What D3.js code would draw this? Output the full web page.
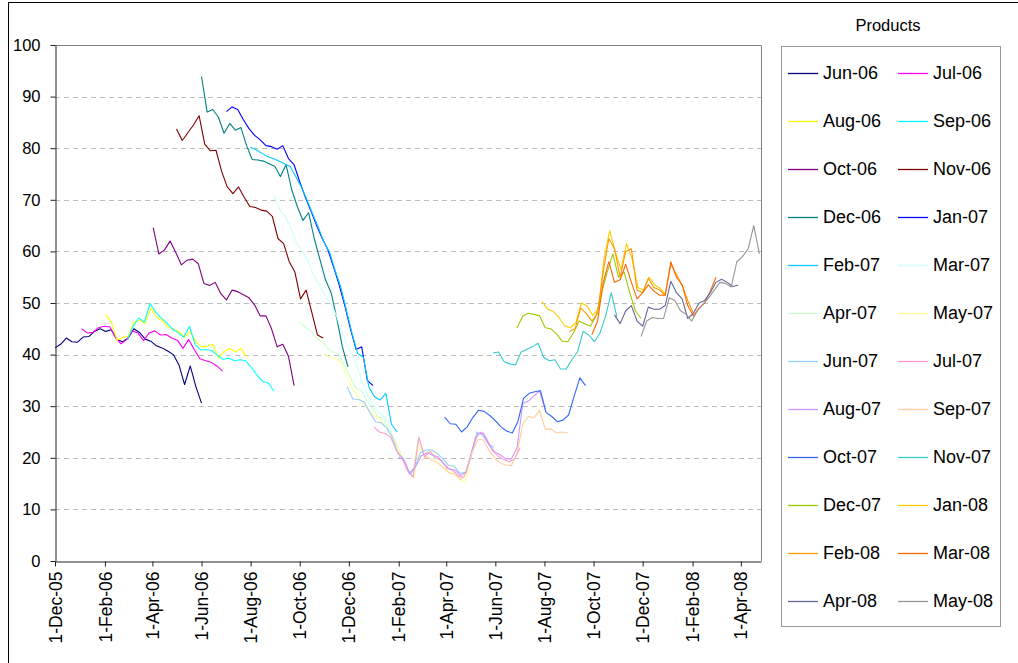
<!DOCTYPE html>
<html>
<head>
<meta charset="utf-8">
<script src="https://cdn.jsdelivr.net/npm/d3@7"></script>
<style>
  html, body { margin: 0; padding: 0; background: #fff; }
  svg { display: block; font-family: "Liberation Sans", Arial, sans-serif; }
</style>
</head>
<body>
<svg id="chart" width="1018" height="663"></svg>
<script>
// Forward products, one line each, in legend order
const products = ["Jun-06","Jul-06","Aug-06","Sep-06","Oct-06","Nov-06","Dec-06","Jan-07",
  "Feb-07","Mar-07","Apr-07","May-07","Jun-07","Jul-07","Aug-07","Sep-07",
  "Oct-07","Nov-07","Dec-07","Jan-08","Feb-08","Mar-08","Apr-08","May-08"];

// First trading date of each product; prices below are weekly from that date
const startDates = ["2005-12-01","2006-01-03","2006-02-02","2006-03-01","2006-04-02","2006-05-01",
  "2006-06-01","2006-07-02","2006-08-01","2006-08-30","2006-10-01","2006-10-31",
  "2006-11-29","2007-01-01","2007-02-01","2007-03-01","2007-03-30","2007-05-29",
  "2007-06-28","2007-07-29","2007-09-01","2007-09-29","2007-10-27","2007-11-29"];

// Weekly prices per product
const jun06 = [41.3,42.0,43.2,42.5,42.4,43.4,43.5,44.5,45.0,44.5,44.8,42.9,42.5,43.2,45.0,44.3,43.0,42.6,41.7,41.3,40.7,40.0,38.0,34.2,37.8,33.8,30.6];
const jul06 = [45.0,44.2,44.3,45.2,45.5,45.4,43.3,42.1,42.9,44.6,44.2,42.7,44.2,44.6,43.8,43.9,43.2,42.8,41.2,42.9,41.0,39.2,38.8,38.5,37.8,36.8];
const aug06 = [47.7,46.3,42.8,43.3,43.6,46.3,46.6,46.0,49.0,47.3,46.6,45.4,44.8,44.5,43.4,44.5,42.5,41.5,41.6,42.0,39.3,40.6,41.2,40.5,41.2,39.5];
const sep06 = [42.9,45.5,47.1,46.3,49.9,48.2,47.1,46.1,45.0,44.2,43.4,45.5,42.0,40.9,41.0,40.8,39.8,39.1,39.3,38.8,39.0,38.8,37.5,36.0,34.8,34.5,32.9];
const oct06 = [64.6,59.5,60.3,62.0,59.8,57.4,58.3,58.5,57.6,53.8,53.4,54.0,51.8,50.6,52.5,52.2,51.6,51.0,49.6,47.5,47.5,45.0,41.5,42.0,39.7,34.0];
const nov06 = [83.7,81.5,83.0,84.5,86.3,80.8,79.5,79.6,75.5,72.5,71.2,72.5,70.5,68.7,68.5,68.0,67.8,66.8,62.5,61.5,58.0,56.0,50.8,52.5,48.2,43.8,43.2];
const dec06 = [93.9,87.0,87.5,86.0,82.9,84.8,83.5,84.0,80.5,77.8,77.7,77.5,77.0,76.5,74.5,76.8,72.0,68.7,66.0,67.5,62.5,58.5,54.5,52.0,47.0,41.5,37.6];
const jan07 = [87.1,88.0,87.5,85.5,83.8,82.5,81.6,80.5,80.3,79.8,80.5,78.0,76.8,73.5,70.5,67.8,65.0,62.5,60.3,57.0,53.5,49.5,45.0,41.0,41.5,35.0,34.0];
const feb07 = [80.2,79.7,79.0,78.4,78.0,77.5,77.0,76.5,74.5,72.5,70.0,67.3,64.7,61.8,59.9,56.3,53.1,48.6,44.1,40.2,39.5,33.7,31.8,31.2,32.5,26.5,25.0];
const mar07 = [70.8,68.2,66.8,64.5,61.6,60.0,58.2,55.5,53.6,51.6,50.0,47.8,44.5,42.0,39.8,37.0,33.5,31.3,29.5,28.4,27.5,24.5,21.0,19.5,17.0,18.0,20.5];
const apr07 = [46.3,45.3,44.6,43.2,42.4,41.2,40.5,40.0,37.8,35.5,33.5,33.0,31.0,29.5,27.9,27.4,25.0,23.2,20.6,18.0,16.5,23.5,20.3,21.6,19.8,19.8,18.2];
const may07 = [40.2,39.5,39.2,38.6,36.0,33.4,32.0,30.4,29.2,28.1,27.3,26.0,24.5,22.2,19.8,17.2,16.4,22.5,20.4,21.4,19.9,19.4,17.2,17.3,15.9,15.2,18.0];
const jun07 = [33.7,31.4,31.3,30.8,28.8,27.0,26.8,25.8,24.0,20.8,19.9,17.0,18.2,21.0,21.5,21.5,20.8,19.8,18.5,18.4,17.0,17.2,20.5,25.0,24.4,22.8,22.0];
const jul07 = [26.0,25.0,24.7,24.0,21.5,20.0,17.5,16.2,24.0,20.2,21.2,20.0,19.5,18.0,17.6,16.5,16.2,19.3,23.8,25.0,23.8,21.5,20.4,19.7,19.2,19.8,22.0];
const aug07 = [20.2,19.4,16.8,18.3,20.4,21.0,20.5,20.2,18.8,17.8,17.6,16.6,17.3,21.5,24.6,24.8,22.5,21.2,20.6,19.8,19.8,22.0,30.5,31.0,32.0,33.0,29.3];
const sep07 = [19.6,20.2,19.5,19.0,18.0,17.0,16.8,15.8,17.0,21.0,23.5,23.5,21.5,20.0,19.0,18.6,18.5,21.0,26.5,28.0,27.8,29.2,25.5,25.6,24.8,25.0,24.8];
const oct07 = [27.9,26.6,26.5,25.0,26.0,27.8,29.2,29.0,28.2,27.2,26.0,25.2,24.8,27.0,31.5,32.5,32.8,33.0,28.8,28.0,27.0,27.3,28.3,32.0,35.5,34.0];
const nov07 = [40.3,40.5,38.6,38.2,38.0,40.5,41.0,41.5,42.2,39.5,38.8,39.0,37.2,37.2,39.0,40.5,44.5,43.8,42.5,44.2,47.5,52.0,47.3];
const dec07 = [45.2,47.5,48.0,47.8,47.5,45.2,45.0,44.0,42.6,42.5,44.2,46.5,46.0,45.5,47.5,52.0,56.0,59.5,55.0,56.0,52.0,48.5,47.0];
const jan08 = [50.3,48.8,48.4,47.2,45.6,45.2,46.2,50.0,49.4,47.6,48.8,58.5,64.0,60.0,56.5,61.5,58.5,53.0,52.5,55.0,53.5,52.8,51.5];
const feb08 = [44.5,45.0,49.0,48.0,46.5,48.0,56.0,62.5,60.5,55.0,60.0,60.5,52.5,52.0,54.8,53.0,52.5,51.5,57.5,55.5,53.5,50.5,48.0];
const mar08 = [43.9,46.5,54.0,58.0,54.0,54.5,57.5,54.0,50.8,52.0,53.5,52.3,51.5,51.5,58.0,55.0,53.5,49.5,47.5,49.0,50.0,52.3,55.0];
const apr08 = [47.7,46.0,48.5,49.5,46.5,45.5,49.2,48.8,48.8,49.5,54.2,52.0,50.8,47.0,48.0,50.0,50.5,52.0,54.0,54.6,54.0,53.2,53.5];
const may08 = [43.5,46.5,47.2,47.0,47.0,51.0,50.5,48.5,47.8,46.5,48.5,49.8,51.0,52.5,54.0,53.8,53.1,58.0,59.0,60.5,65.0,59.5];

const seriesValues = [jun06, jul06, aug06, sep06, oct06, nov06, dec06, jan07,
  feb07, mar07, apr07, may07, jun07, jul07, aug07, sep07,
  oct07, nov07, dec07, jan08, feb08, mar08, apr08, may08];

// Axis ticks
const yTicks = [0, 10, 20, 30, 40, 50, 60, 70, 80, 90, 100];
const xTickDates = ["2005-12-01","2006-02-01","2006-04-01","2006-06-01","2006-08-01",
  "2006-10-01","2006-12-01","2007-02-01","2007-04-01","2007-06-01","2007-08-01",
  "2007-10-01","2007-12-01","2008-02-01","2008-04-01"];
const xDomain = ["2005-12-01", "2008-04-26"];

// Line colours, one per product
const palette = ["#000080","#FF00FF","#FFFF00","#00FFFF","#800080","#800000","#008080","#0000FF",
  "#00CCFF","#CCFFFF","#CCFFCC","#FFFF99","#99CCFF","#FF99CC","#CC99FF","#FFCC99",
  "#3366FF","#33CCCC","#99CC00","#FFCC00","#FF9900","#FF6600","#666699","#969696"];

const parse = d3.timeParse("%Y-%m-%d");
const svg = d3.select("#chart");

const plot = { left: 55, right: 761, top: 45, bottom: 561 };

const x = d3.scaleTime()
  .domain(xDomain.map(parse))
  .range([plot.left, plot.right]);
const y = d3.scaleLinear()
  .domain([0, 100])
  .range([plot.bottom, plot.top]);

// Chart area frame
svg.append("rect")
  .attr("x", 8.5).attr("y", 2.5)
  .attr("width", 1030).attr("height", 700)
  .attr("fill", "none").attr("stroke", "#000").attr("stroke-width", 1);

// Dashed horizontal gridlines
svg.append("g")
  .selectAll("line")
  .data(yTicks.filter(v => v > 0 && v < 100))
  .join("line")
  .attr("x1", plot.left).attr("x2", plot.right)
  .attr("y1", d => Math.round(y(d)) + 0.5).attr("y2", d => Math.round(y(d)) + 0.5)
  .attr("stroke", "#BDBDBD").attr("stroke-width", 1)
  .attr("stroke-dasharray", "5,4");

// Plot area border (top and right)
svg.append("path")
  .attr("d", `M${plot.left},${plot.top + 0.5}H${plot.right + 0.5}V${plot.bottom}`)
  .attr("fill", "none").attr("stroke", "#808080").attr("stroke-width", 1);

svg.append("defs").append("clipPath").attr("id", "plotClip")
  .append("rect")
  .attr("x", plot.left).attr("y", plot.top)
  .attr("width", plot.right - plot.left).attr("height", plot.bottom - plot.top);

// Price lines
const line = d3.line()
  .x(d => x(d.date))
  .y(d => y(d.value));

const series = products.map((name, i) => {
  const start = parse(startDates[i]);
  return {
    name,
    color: palette[i],
    points: seriesValues[i].map((v, k) => ({ date: d3.timeDay.offset(start, 7 * k), value: v }))
  };
});

svg.append("g")
  .attr("clip-path", "url(#plotClip)")
  .selectAll("path")
  .data(series)
  .join("path")
  .attr("d", d => line(d.points))
  .attr("fill", "none")
  .attr("stroke", d => d.color)
  .attr("stroke-width", 1.1)
  .attr("stroke-linejoin", "round");

// Y axis
const yAxis = svg.append("g")
  .attr("transform", `translate(${plot.left + 0.5},0)`)
  .call(d3.axisLeft(y).tickValues(yTicks).tickSize(5).tickSizeOuter(0).tickPadding(10));
yAxis.select(".domain").attr("stroke", "#222");
yAxis.selectAll(".tick line").attr("stroke", "#222");
yAxis.selectAll("text")
  .attr("font-size", 16.5)
  .attr("font-family", "Liberation Sans, Arial, sans-serif")
  .attr("fill", "#000");

// X axis with rotated date labels
const fmt = d3.timeFormat("%-d-%b-%y");
const xAxis = svg.append("g")
  .attr("transform", `translate(0,${plot.bottom + 0.5})`)
  .call(d3.axisBottom(x).tickValues(xTickDates.map(parse)).tickFormat(fmt).tickSize(5).tickSizeOuter(0));
xAxis.select(".domain").attr("stroke", "#222");
xAxis.selectAll(".tick line").attr("stroke", "#222");
xAxis.selectAll("text")
  .attr("font-size", 17.5)
  .attr("font-family", "Liberation Sans, Arial, sans-serif")
  .attr("fill", "#000")
  .attr("text-anchor", "end")
  .attr("transform", "rotate(-90)")
  .attr("x", -10)
  .attr("y", 0)
  .attr("dy", "0.35em");

// Legend
svg.append("text")
  .attr("x", 888).attr("y", 31)
  .attr("text-anchor", "middle")
  .attr("font-size", 16.5)
  .attr("fill", "#000")
  .text("Products");

svg.append("rect")
  .attr("x", 781.5).attr("y", 46.5)
  .attr("width", 219).attr("height", 580)
  .attr("fill", "#fff").attr("stroke", "#999").attr("stroke-width", 1);

const legendItems = svg.append("g")
  .selectAll("g")
  .data(series)
  .join("g")
  .attr("transform", (d, i) => `translate(${i % 2 === 0 ? 788 : 898},${73 + Math.floor(i / 2) * 48})`);

legendItems.append("line")
  .attr("x1", 0).attr("x2", 30)
  .attr("y1", 0.5).attr("y2", 0.5)
  .attr("stroke", d => d.color).attr("stroke-width", 1.3);

legendItems.append("text")
  .attr("x", 35).attr("y", 0)
  .attr("dy", "0.36em")
  .attr("font-size", 18)
  .attr("fill", "#000")
  .text(d => d.name);
</script>
</body>
</html>
